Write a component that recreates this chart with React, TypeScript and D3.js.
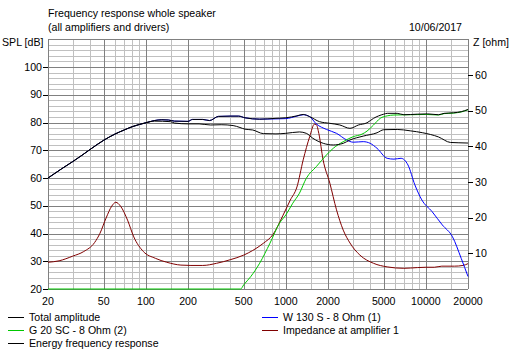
import React from "react";
import * as d3 from "d3";

// frequency [Hz], level [dB]
const totalAmplitude: [number, number][] = [
  [20, 60.0], [25, 63.3], [30, 65.9], [35, 68.2], [40, 70.3], [45, 72.1], [50, 73.6],
  [60, 75.8], [70, 77.3], [80, 78.5], [90, 79.3], [100, 79.9], [115, 80.7], [130, 81.0],
  [145, 80.9], [160, 80.5], [200, 80.4], [215, 81.1], [255, 81.1], [285, 80.7], [330, 82.2],
  [400, 82.3], [460, 82.3], [510, 81.7], [650, 81.2], [850, 81.5], [1000, 81.7], [1200, 82.4],
  [1330, 82.9], [1480, 82.1], [1740, 80.3], [2060, 79.7], [2430, 79.1], [2870, 77.9],
  [3300, 79.1], [3800, 79.9], [4230, 81.5], [5000, 83.0], [5300, 83.3], [6240, 83.3],
  [6960, 82.8], [8700, 83.0], [10300, 83.1], [12300, 82.8], [13500, 83.3], [15800, 83.5],
  [17900, 83.9], [20000, 84.7],
];

const energyResponse: [number, number][] = [
  [20, 60.0], [25, 63.3], [30, 65.9], [35, 68.2], [40, 70.3], [45, 72.1], [50, 73.6],
  [60, 75.8], [70, 77.3], [80, 78.5], [90, 79.3], [100, 79.9], [115, 80.5], [150, 80.3],
  [160, 79.8], [200, 79.5], [240, 79.5], [290, 79.1], [345, 79.2], [420, 78.9], [470, 78.2],
  [510, 77.6], [580, 77.3], [690, 76.0], [850, 75.9], [1000, 76.1], [1250, 76.6],
  [1400, 76.1], [1560, 74.3], [1850, 72.5], [2180, 71.9], [2570, 72.5], [2870, 73.7],
  [3570, 75.1], [4480, 76.3], [5000, 77.4], [6240, 77.5], [7730, 77.0], [9500, 76.3],
  [12300, 74.8], [15000, 72.8], [17000, 72.7], [20000, 72.6],
];

const woofer: [number, number][] = [
  [20, 60.0], [25, 63.3], [30, 65.9], [35, 68.2], [40, 70.3], [45, 72.1], [50, 73.6],
  [60, 75.8], [70, 77.3], [80, 78.5], [90, 79.3], [100, 79.9], [115, 80.7], [130, 81.0],
  [145, 80.9], [160, 80.5], [200, 80.4], [215, 81.1], [255, 81.1], [285, 80.7], [330, 82.2],
  [400, 82.3], [460, 82.3], [510, 81.7], [650, 81.2], [850, 81.3], [1000, 81.4], [1200, 82.3],
  [1330, 82.8], [1480, 82.1], [1650, 79.5], [1950, 77.5], [2300, 76.1], [2720, 73.7],
  [3030, 72.9], [3570, 73.1], [4000, 72.5], [4480, 70.7], [5290, 67.1], [5920, 66.8],
  [6640, 67.1], [7450, 64.7], [8350, 57.5], [9360, 52.1], [11070, 47.9], [13100, 43.1],
  [15500, 38.8], [17900, 31.0], [20000, 24.5],
];

const tweeter: [number, number][] = [
  [20, -20], [100, -5], [200, 4], [300, 11], [400, 16], [475, 19.5], [500, 21.5],
  [560, 24.4], [650, 29.3], [770, 36.5], [900, 43.7], [1000, 46.7], [1120, 50.9],
  [1250, 54.5], [1400, 59.9], [1650, 64.1], [1950, 68.3], [2180, 70.7], [2570, 73.1],
  [3030, 74.9], [3500, 75.8], [3800, 76.9], [4230, 79.1], [4720, 81.5], [5300, 82.4],
  [5920, 82.7], [7730, 82.8], [10000, 82.9], [12300, 82.7], [13500, 83.2], [15800, 83.4],
  [17900, 83.8], [20000, 84.6],
];

// frequency [Hz], impedance [ohm]
const impedance: [number, number][] = [
  [20, 7.5], [24, 7.9], [30, 9.2], [36, 10.5], [43, 13.0], [47, 15.6], [52, 19.9],
  [57, 23.2], [61, 24.3], [66, 23.2], [74, 19.3], [82, 14.6], [96, 10.5], [117, 8.6],
  [141, 7.5], [178, 6.7], [210, 6.6], [255, 6.6], [320, 7.2], [400, 8.2], [500, 9.5],
  [580, 10.8], [690, 12.8], [810, 15.3], [950, 20.5], [1075, 24.9], [1200, 28.6],
  [1330, 36.2], [1480, 42.7], [1600, 46.2], [1650, 46.1], [1720, 43.6], [1845, 36.2],
  [2060, 29.7], [2300, 22.2], [2570, 16.5], [2870, 12.9], [3380, 9.5], [4230, 7.2],
  [5290, 6.2], [6960, 5.8], [8700, 6.0], [10000, 6.1], [11500, 6.1], [13000, 6.4],
  [16000, 6.4], [18400, 6.6], [20000, 7.1],
];

const freqLabels = [20, 50, 100, 200, 500, 1000, 2000, 5000, 10000, 20000];
const freqMinor = [30, 40, 60, 70, 80, 90, 150, 300, 400, 600, 700, 800, 900, 1500,
  3000, 4000, 6000, 7000, 8000, 9000, 15000];
const splTicks = [20, 30, 40, 50, 60, 70, 80, 90, 100];
const zTicks = [10, 20, 30, 40, 50, 60];

const W = 516;
const H = 353;
const font = "'Liberation Sans', Arial, sans-serif";

const x = d3.scaleLog().domain([20, 20000]).range([48, 468]);
const y = d3.scaleLinear().domain([20, 110]).range([289, 39.25]).clamp(true);
const z = d3.scaleLinear().domain([0, 70]).range([289, 39.25]).clamp(true);

const splLine = d3.line<[number, number]>()
  .x((d) => x(d[0]))
  .y((d) => y(d[1]))
  .curve(d3.curveMonotoneX);
const zLine = d3.line<[number, number]>()
  .x((d) => x(d[0]))
  .y((d) => z(d[1]))
  .curve(d3.curveMonotoneX);

const legend = [
  { label: "Total amplitude", color: "#000000", col: 0, row: 0 },
  { label: "G 20 SC - 8 Ohm (2)", color: "#00c800", col: 0, row: 1 },
  { label: "Energy frequency response", color: "#000000", col: 0, row: 2 },
  { label: "W 130 S - 8 Ohm (1)", color: "#0000ff", col: 1, row: 0 },
  { label: "Impedance at amplifier 1", color: "#800000", col: 1, row: 1 },
];

const px = (v: number) => Math.round(v) + 0.5;

export default function App() {
  const hMinor = d3.range(22, 110, 2).filter((v) => v % 10 !== 0);
  const hMajor = d3.range(30, 111, 10);
  const [x0, x1] = x.range();
  const top = y(110);
  const bottom = y(20);

  return (
    <svg width={W} height={H} style={{ position: "absolute", left: 0, top: 0, background: "#fff" }}
      fontFamily={font} fontSize={10.6}>
      <g shapeRendering="crispEdges" strokeWidth={1}>
        {hMinor.map((v) => (
          <line key={"hm" + v} x1={x0} x2={x1} y1={px(y(v))} y2={px(y(v))} stroke="#c0c0c0" />
        ))}
        {freqMinor.map((f) => (
          <line key={"vm" + f} x1={px(x(f))} x2={px(x(f))} y1={top} y2={bottom} stroke="#c0c0c0" />
        ))}
        {hMajor.map((v) => (
          <line key={"hM" + v} x1={x0} x2={x1} y1={px(y(v))} y2={px(y(v))} stroke="#808080" />
        ))}
        {freqLabels.map((f) => (
          <line key={"vM" + f} x1={px(x(f))} x2={px(x(f))} y1={top} y2={bottom} stroke="#808080" />
        ))}
        <line x1={x0} x2={x1} y1={px(bottom)} y2={px(bottom)} stroke="#808080" />
        {splTicks.map((v) => (
          <line key={"lt" + v} x1={x0 - 5} x2={x0} y1={px(y(v))} y2={px(y(v))} stroke="#000" />
        ))}
        {zTicks.map((v) => (
          <line key={"rt" + v} x1={x1} x2={x1 + 5} y1={px(z(v))} y2={px(z(v))} stroke="#000" />
        ))}
      </g>

      <g fill="none" strokeWidth={1}>
        <path d={zLine(impedance) || ""} stroke="#800000" />
        <path d={splLine(woofer) || ""} stroke="#0000ff" />
        <path d={splLine(tweeter) || ""} stroke="#00c800" />
        <path d={splLine(energyResponse) || ""} stroke="#000000" />
        <path d={splLine(totalAmplitude) || ""} stroke="#000000" />
      </g>

      <g fill="#000">
        <text x={48} y={13} dy="0.35em">Frequency response whole speaker</text>
        <text x={48} y={27} dy="0.35em">(all amplifiers and drivers)</text>
        <text x={462} y={27} dy="0.35em" textAnchor="end">10/06/2017</text>
        <text x={2} y={42} dy="0.35em">SPL [dB]</text>
        <text x={473} y={42} dy="0.35em">Z [ohm]</text>
        {splTicks.map((v) => (
          <text key={"ll" + v} x={42} y={y(v)} dy="0.35em" textAnchor="end">{v}</text>
        ))}
        {zTicks.map((v) => (
          <text key={"rl" + v} x={475} y={z(v)} dy="0.35em">{v}</text>
        ))}
        {freqLabels.map((f) => (
          <text key={"fl" + f} x={x(f)} y={301} dy="0.35em" textAnchor="middle">{f}</text>
        ))}
      </g>

      {legend.map((d) => {
        const lx = d.col === 0 ? 8 : 262;
        const ly = 317 + d.row * 13;
        return (
          <g key={d.label}>
            <line x1={lx} x2={lx + 16} y1={ly + 0.5} y2={ly + 0.5} stroke={d.color} shapeRendering="crispEdges" />
            <text x={lx + 21} y={ly} dy="0.35em" fill="#000">{d.label}</text>
          </g>
        );
      })}
    </svg>
  );
}
